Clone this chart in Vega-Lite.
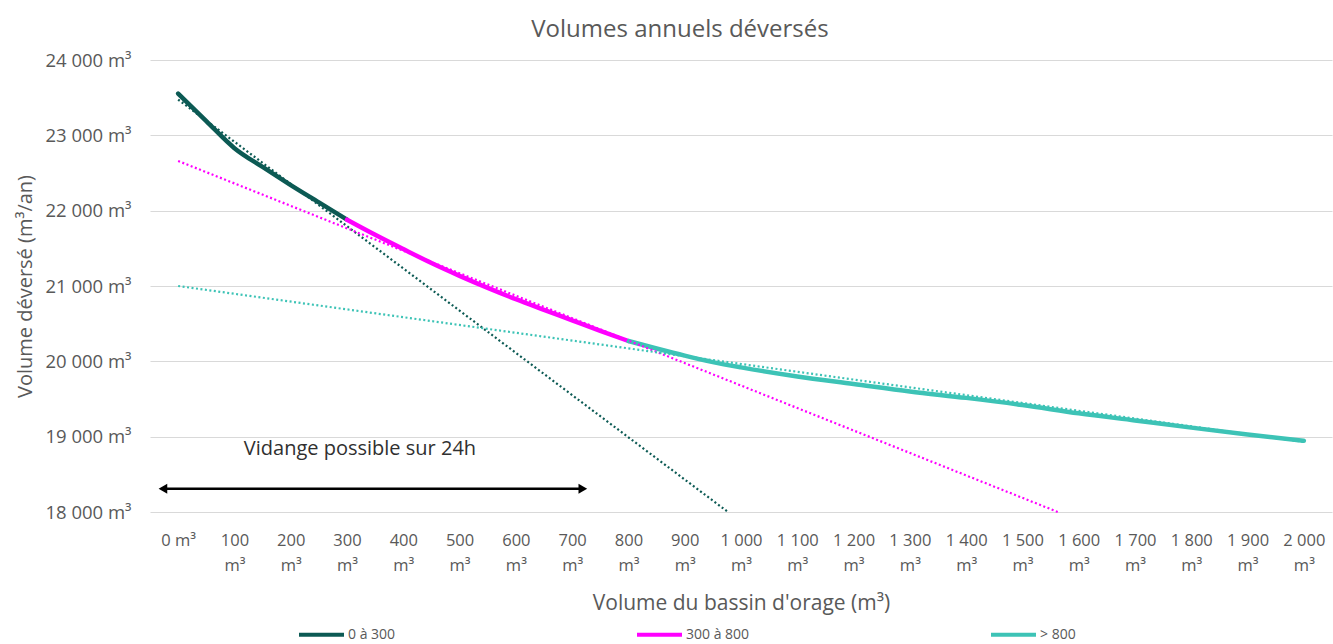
{
  "$schema": "https://vega.github.io/schema/vega-lite/v6.json",
  "width": 1182,
  "height": 452,
  "autosize": {"type": "none"},
  "padding": {"left": 150, "top": 60, "right": 1, "bottom": 132},
  "background": "white",
  "title": {"text": "Volumes annuels déversés", "fontSize": 24, "font": "Open Sans", "fontWeight": "normal", "color": "#595959", "anchor": "middle", "dx": -61, "offset": 9},
  "config": {
    "font": "Open Sans",
    "view": {"stroke": null},
    "axis": {"labelFont": "Open Sans", "titleFont": "Open Sans", "labelColor": "#595959", "titleColor": "#595959", "domain": false, "ticks": false, "titleFontWeight": "normal"},
    "legend": {"orient": "none", "legendX": 147, "legendY": 550, "direction": "horizontal", "columns": 3, "columnPadding": 233, "symbolType": "stroke", "symbolSize": 2025, "symbolStrokeWidth": 4, "labelFontSize": 14, "labelColor": "#595959", "labelFont": "Open Sans", "labelOffset": 2}
  },
  "datasets": {
    "curve": [
      {"v": 0, "vol": 23555, "seg": "0 à 300"},
      {"v": 50, "vol": 23190, "seg": "0 à 300"},
      {"v": 100, "vol": 22830, "seg": "0 à 300"},
      {"v": 150, "vol": 22580, "seg": "0 à 300"},
      {"v": 200, "vol": 22340, "seg": "0 à 300"},
      {"v": 250, "vol": 22110, "seg": "0 à 300"},
      {"v": 300, "vol": 21880, "seg": "0 à 300"},
      {"v": 300, "vol": 21880, "seg": "300 à 800"},
      {"v": 350, "vol": 21680, "seg": "300 à 800"},
      {"v": 400, "vol": 21490, "seg": "300 à 800"},
      {"v": 450, "vol": 21305, "seg": "300 à 800"},
      {"v": 500, "vol": 21135, "seg": "300 à 800"},
      {"v": 550, "vol": 20975, "seg": "300 à 800"},
      {"v": 600, "vol": 20825, "seg": "300 à 800"},
      {"v": 650, "vol": 20684, "seg": "300 à 800"},
      {"v": 700, "vol": 20545, "seg": "300 à 800"},
      {"v": 750, "vol": 20405, "seg": "300 à 800"},
      {"v": 800, "vol": 20270, "seg": "300 à 800"},
      {"v": 800, "vol": 20270, "seg": "> 800"},
      {"v": 850, "vol": 20170, "seg": "> 800"},
      {"v": 900, "vol": 20075, "seg": "> 800"},
      {"v": 950, "vol": 19990, "seg": "> 800"},
      {"v": 1000, "vol": 19920, "seg": "> 800"},
      {"v": 1100, "vol": 19800, "seg": "> 800"},
      {"v": 1200, "vol": 19700, "seg": "> 800"},
      {"v": 1300, "vol": 19600, "seg": "> 800"},
      {"v": 1400, "vol": 19515, "seg": "> 800"},
      {"v": 1500, "vol": 19420, "seg": "> 800"},
      {"v": 1600, "vol": 19310, "seg": "> 800"},
      {"v": 1700, "vol": 19215, "seg": "> 800"},
      {"v": 1800, "vol": 19120, "seg": "> 800"},
      {"v": 1900, "vol": 19030, "seg": "> 800"},
      {"v": 2000, "vol": 18945, "seg": "> 800"}
    ],
    "trend": [
      {"v": 0, "vol": 23475, "seg": "0 à 300"},
      {"v": 977, "vol": 18000, "seg": "0 à 300"},
      {"v": 0, "vol": 22660, "seg": "300 à 800"},
      {"v": 1563, "vol": 18000, "seg": "300 à 800"},
      {"v": 0, "vol": 21000, "seg": "> 800"},
      {"v": 2000, "vol": 18930, "seg": "> 800"}
    ],
    "arrow": [
      {"v": -27, "v2": 719, "vol": 18310}
    ],
    "heads": [
      {"v": -27, "vol": 18310, "dir": "left"},
      {"v": 719, "vol": 18310, "dir": "right"}
    ],
    "note": [
      {"v": 323, "vol": 18840, "label": "Vidange possible sur 24h"}
    ]
  },
  "encoding": {
    "x": {"field": "v", "type": "quantitative",
      "scale": {"domain": [-50, 2050], "nice": false, "zero": false},
      "axis": {"title": "Volume du bassin d'orage (m³)", "values": [0,100,200,300,400,500,600,700,800,900,1000,1100,1200,1300,1400,1500,1600,1700,1800,1900,2000],
        "labelExpr": "datum.value == 0 ? '0 m³' : [replace(format(datum.value, ','), ',', ' '), 'm³']",
        "labelFontSize": 16.5, "labelPadding": 20, "labelLineHeight": 25, "labelAlign": "center", "labelBaseline": "top", "grid": false,
        "labelFlush": false, "labelOverlap": false, "titleFontSize": 21, "titlePadding": 19}},
    "y": {"field": "vol", "type": "quantitative",
      "scale": {"domain": [18000, 24000], "nice": false, "zero": false},
      "axis": {"title": "Volume déversé (m³/an)", "values": [18000,19000,20000,21000,22000,23000,24000],
        "labelExpr": "replace(format(datum.value, ','), ',', ' ') + ' m³'",
        "labelFontSize": 18.5, "labelPadding": 19, "grid": true, "gridColor": "#D9D9D9", "gridWidth": 1.2,
        "titleFontSize": 20, "titlePadding": 9}}
  },
  "layer": [
    {
      "data": {"name": "curve"},
      "mark": {"type": "line", "strokeWidth": 4.5, "interpolate": "monotone", "strokeCap": "round"},
      "encoding": {
        "color": {"field": "seg", "type": "nominal", "title": null,
          "scale": {"domain": ["0 à 300", "300 à 800", "> 800"], "range": ["#0C5A54", "#FF00FF", "#3DC3B6"]}},
        "order": {"field": "v", "type": "quantitative"}
      }
    },
    {
      "data": {"name": "trend"},
      "mark": {"type": "line", "strokeWidth": 2.2, "strokeDash": [2, 2.5]},
      "encoding": {
        "color": {"field": "seg", "type": "nominal", "title": null}
      }
    },
    {
      "data": {"name": "arrow"},
      "mark": {"type": "rule", "strokeWidth": 2.5, "color": "#000000"},
      "encoding": {
        "x2": {"field": "v2"}
      }
    },
    {
      "data": {"name": "heads"},
      "mark": {"type": "point", "filled": true, "size": 100, "color": "#000000", "opacity": 1},
      "encoding": {
        "shape": {"field": "dir", "type": "nominal", "legend": null,
          "scale": {"domain": ["left", "right"], "range": ["triangle-left", "triangle-right"]}}
      }
    },
    {
      "data": {"name": "note"},
      "mark": {"type": "text", "fontSize": 20, "font": "Open Sans", "color": "#303030", "align": "center", "baseline": "middle"},
      "encoding": {
        "text": {"field": "label"}
      }
    }
  ]
}
